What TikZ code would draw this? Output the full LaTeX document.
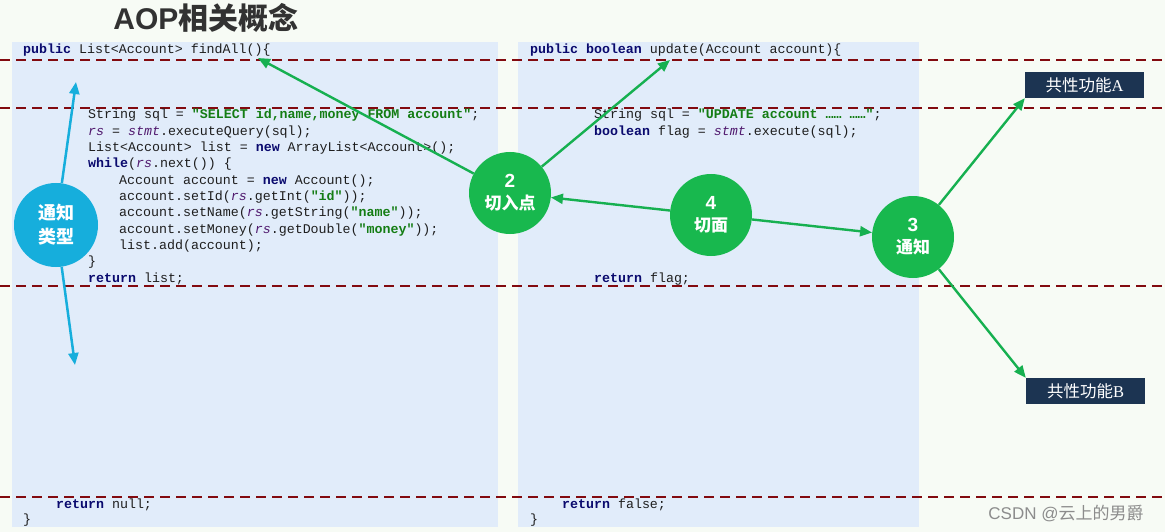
\documentclass[tikz,border=0pt]{standalone}
\usepackage{fontspec}
\setmonofont{Liberation Mono}
\newfontfamily\cjk{Noto Sans CJK SC}
\newfontfamily\lsans{Liberation Sans}
\newfontfamily\lserif{Liberation Serif}
\usetikzlibrary{arrows.meta}
\definecolor{bgc}{RGB}{247,251,245}
\definecolor{panelc}{RGB}{225,236,250}
\definecolor{dashc}{RGB}{130,10,15}
\definecolor{cgreen}{RGB}{24,184,78}
\definecolor{agreen}{RGB}{22,176,80}
\definecolor{ccyan}{RGB}{22,174,220}
\definecolor{boxc}{RGB}{28,52,82}
\definecolor{codeblack}{RGB}{30,30,30}
\definecolor{kwc}{RGB}{10,10,110}
\definecolor{strc}{RGB}{20,125,20}
\definecolor{varc}{RGB}{80,25,110}
\definecolor{titlec}{RGB}{50,50,50}
\newcommand{\ckw}[1]{{\bfseries\color{kwc}#1}}
\newcommand{\cstr}[1]{{\bfseries\color{strc}#1}}
\newcommand{\cvar}[1]{{\itshape\color{varc}#1}}
\newcommand{\numf}[1]{{\lsans\bfseries\fontsize{19}{22}\selectfont #1}}
\begin{document}
\begin{tikzpicture}[x=1pt,y=-1pt,
  code/.style={font=\ttfamily\fontsize{13.3}{16}\selectfont, text=codeblack, anchor=base west, inner sep=0pt},
  gcirc/.style={circle, fill=cgreen, minimum size=82pt, inner sep=0pt, text=white, font=\cjk\bfseries\fontsize{17}{22}\selectfont, align=center},
  ccirc/.style={circle, fill=ccyan, minimum size=84pt, inner sep=0pt, text=white, font=\cjk\bfseries\fontsize{18}{24}\selectfont, align=center},
  garrow/.style={draw=agreen, line width=2.4pt, -{Triangle[length=12pt,width=10pt]}},
  carrow/.style={draw=ccyan, line width=2.5pt, -{Triangle[length=12pt,width=10pt]}},
  dline/.style={draw=dashc, line width=2pt, dash pattern=on 10pt off 6pt},
  fbox/.style={fill=boxc, minimum width=119pt, minimum height=26pt, inner sep=0pt, text=white, font=\cjk\fontsize{16.5}{18}\selectfont},
  panel/.style={fill=panelc, draw=none}
]
\useasboundingbox (0,0) rectangle (1165,532);
\fill[bgc] (0,0) rectangle (1165,532);
% panels
\path[panel] (12,42) rectangle (498,527);
\path[panel] (518,42) rectangle (919,527);
% dashed lines
\draw[dline] (0,60) -- (1165,60);
\draw[dline] (0,108) -- (1165,108);
\draw[dline] (0,286) -- (1165,286);
\draw[dline] (0,497) -- (1165,497);
% title
\node[font=\cjk\bfseries\fontsize{30}{32}\selectfont, text=titlec] (title) at (206,18) {{\lsans\bfseries AOP}相关概念};
% left code
\node[code] (l0) at (23,54) {\ckw{public} List<Account> findAll()\{};
\node[code] (l1) at (88,119) {String sql = \cstr{"SELECT id,name,money FROM account"};};
\node[code] (l2) at (88,135.3) {\cvar{rs} = \cvar{stmt}.executeQuery(sql);};
\node[code] (l3) at (88,151.6) {List<Account> list = \ckw{new} ArrayList<Account>();};
\node[code] (l4) at (88,167.9) {\ckw{while}(\cvar{rs}.next()) \{};
\node[code] (l5) at (119,184.2) {Account account = \ckw{new} Account();};
\node[code] (l6) at (119,200.5) {account.setId(\cvar{rs}.getInt(\cstr{"id"}));};
\node[code] (l7) at (119,216.8) {account.setName(\cvar{rs}.getString(\cstr{"name"}));};
\node[code] (l8) at (119,233.1) {account.setMoney(\cvar{rs}.getDouble(\cstr{"money"}));};
\node[code] (l9) at (119,249.4) {list.add(account);};
\node[code] (l10) at (88,265.7) {\}};
\node[code] (l11) at (88,282) {\ckw{return} list;};
\node[code] (l12) at (56,508) {\ckw{return} null;};
\node[code] (l13) at (23,523) {\}};
% right code
\node[code] (r0) at (530,54) {\ckw{public} \ckw{boolean} update(Account account)\{};
\node[code] (r1) at (594,119) {String sql = \cstr{"UPDATE account …… ……"};};
\node[code] (r2) at (594,135.3) {\ckw{boolean} flag = \cvar{stmt}.execute(sql);};
\node[code] (r3) at (594,282) {\ckw{return} flag;};
\node[code] (r4) at (562,508) {\ckw{return} false;};
\node[code] (r5) at (530,523) {\}};
% circles
\node[ccirc] (c1) at (56,225) {通知\\类型};
\node[gcirc] (c2) at (510,193) {\numf{2}\\切入点};
\node[gcirc] (c4) at (711,215) {\numf{4}\\切面};
\node[gcirc] (c3) at (913,237) {\numf{3}\\通知};
% boxes
\node[fbox] (bA) at (1084.5,85) {共性功能{\lserif A}};
\node[fbox] (bB) at (1085.5,391) {共性功能{\lserif B}};
% free ends
\coordinate (pFind) at (258,58);
\coordinate (pUpd) at (670,60);
\coordinate (pUp) at (76,82);
\coordinate (pDown) at (75,365);
% arrows
\draw[garrow] (c2) -- (pFind);
\draw[garrow] (c2) -- (pUpd);
\draw[garrow] (c4) -- (c2);
\draw[garrow] (c4) -- (c3);
\draw[garrow] (c3) -- (bA.south west);
\draw[garrow] (c3) -- (bB.north west);
\draw[carrow] (c1) -- (pUp);
\draw[carrow] (c1) -- (pDown);
% watermark
\node[text=black!45, font=\fontsize{17}{19}\selectfont] (wm) at (1066,513) {{\lsans CSDN @}{\cjk 云上的男爵}};
\end{tikzpicture}
\end{document}
